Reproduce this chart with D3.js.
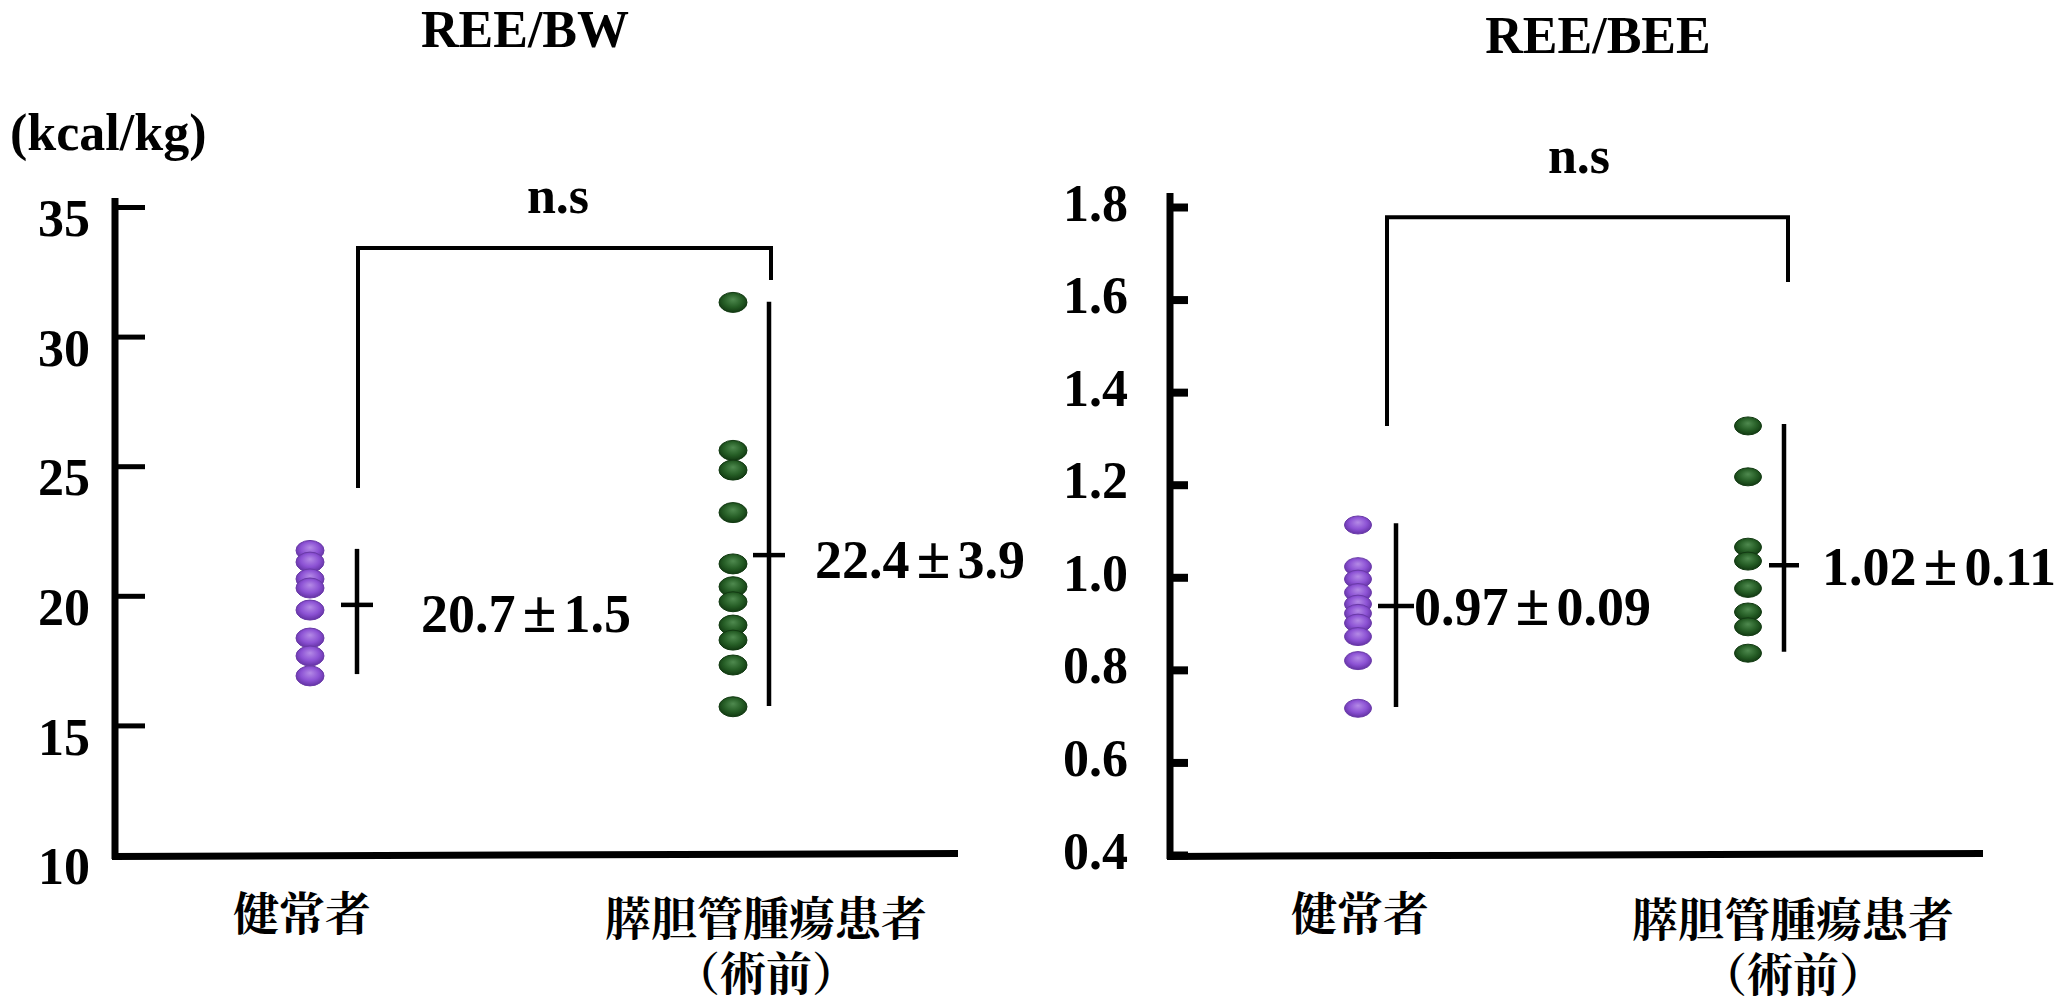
<!DOCTYPE html>
<html>
<head>
<meta charset="utf-8">
<script src="https://cdn.jsdelivr.net/npm/d3@7"></script>
<style>
  html, body { margin: 0; padding: 0; background: #fff; }
  svg { display: block; }
  .serif { font-family: "Liberation Serif", "Times New Roman", serif; font-weight: bold; fill: #000; }
  .cjk { font-family: "Liberation Serif", "Noto Serif CJK JP", "Noto Sans CJK JP", sans-serif; font-weight: bold; fill: #000; }
</style>
</head>
<body>
<script>
// ---------------- data ----------------
const categories = ["健常者", "膵胆管腫瘍患者"];
const categorySubLabels = ["", "（術前）"];

const bwTicks = [10, 15, 20, 25, 30, 35];
const bwHealthy = [21.75, 21.30, 20.65, 20.30, 19.45, 18.37, 17.68, 16.91];
const bwPatients = [31.32, 25.61, 24.85, 23.21, 21.23, 20.35, 19.77, 18.87, 18.29, 17.33, 15.72];
const bwBarMean = [19.65, 21.57];
const bwBarLow = [16.98, 15.75];
const bwBarHigh = [21.81, 31.34];
const bwStatLabels = [["20.7", "1.5"], ["22.4", "3.9"]];
const bwBracket = [33.42, 24.16, 32.18]; // top, left leg end, right leg end

const beeTicks = [0.4, 0.6, 0.8, 1.0, 1.2, 1.4, 1.6, 1.8];
const beeHealthy = [1.113, 1.023, 0.996, 0.967, 0.942, 0.922, 0.901, 0.872, 0.820, 0.717];
const beePatients = [1.327, 1.217, 1.065, 1.035, 0.976, 0.925, 0.893, 0.836];
const beeBarMean = [0.938, 1.026];
const beeBarLow = [0.720, 0.839];
const beeBarHigh = [1.117, 1.331];
const beeStatLabels = [["0.97", "0.09"], ["1.02", "0.11"]];
const beeBracket = [1.778, 1.327, 1.638];

// ---------------- layout ----------------
const W = 2071, H = 1001;
const svg = d3.select("body").append("svg").attr("width", W).attr("height", H);

const defs = svg.append("defs");
function bead(id, c0, c1, c2) {
  const g = defs.append("radialGradient").attr("id", id)
    .attr("cx", "50%").attr("cy", "45%").attr("r", "60%").attr("fx", "50%").attr("fy", "35%");
  g.append("stop").attr("offset", "0%").attr("stop-color", c0);
  g.append("stop").attr("offset", "55%").attr("stop-color", c1);
  g.append("stop").attr("offset", "100%").attr("stop-color", c2);
}
bead("gPurple", "#b48ae6", "#8c52d4", "#5c2c9c");
bead("gGreen", "#4f8a4f", "#265e26", "#0e330e");
const fills = ["url(#gPurple)", "url(#gGreen)"];
const strokes = ["#6a3aa8", "#123a12"];

const panels = [
  {
    title: "REE/BW", titleX: 525, titleY: 47,
    unit: "(kcal/kg)", unitX: 10, unitY: 150,
    ticks: bwTicks, fmt: d => d3.format("d")(d), domain: [10, 35],
    yRange: [855, 207], axisX: 115, axisTop: 198, axisRight: 958,
    tickLen: 30, tickW: 5, tickPad: 25, labelDy: "0.55em",
    series: [bwHealthy, bwPatients], dotX: [310, 733], rx: 14, ry: 10,
    barX: [357, 769], barMean: bwBarMean, barLow: bwBarLow, barHigh: bwBarHigh, barTick: [16, 16],
    stat: bwStatLabels, statX: [421, 815], statDy: [27, 23],
    bracket: bwBracket, bracketX: [358, 771], ns: "n.s", nsX: 558, nsY: 213,
    catX: [302, 766], catY: [930, 935], subY: 990
  },
  {
    title: "REE/BEE", titleX: 1598, titleY: 53,
    unit: null,
    ticks: beeTicks, fmt: d3.format(".1f"), domain: [0.4, 1.8],
    yRange: [855, 207], axisX: 1170, axisTop: 193, axisRight: 1983,
    tickLen: 18, tickW: 8, tickPad: 42, labelDy: "0.25em",
    series: [beeHealthy, beePatients], dotX: [1358, 1748], rx: 13.5, ry: 9,
    barX: [1396, 1784], barMean: beeBarMean, barLow: beeBarLow, barHigh: beeBarHigh, barTick: [18, 15],
    stat: beeStatLabels, statX: [1414, 1822], statDy: [19, 20],
    bracket: beeBracket, bracketX: [1387, 1788], ns: "n.s", nsX: 1579, nsY: 173,
    catX: [1360, 1793], catY: [930, 936], subY: 991
  }
];

panels.forEach(p => {
  const g = svg.append("g");
  const y = d3.scaleLinear().domain(p.domain).range(p.yRange);
  const x = d3.scaleOrdinal().domain(categories).range(p.dotX);
  const bx = d3.scaleOrdinal().domain(categories).range(p.barX);

  // title
  g.append("text").attr("class", "serif").attr("x", p.titleX).attr("y", p.titleY)
    .attr("text-anchor", "middle").attr("font-size", 52).text(p.title);
  if (p.unit) {
    g.append("text").attr("class", "serif").attr("x", p.unitX).attr("y", p.unitY)
      .attr("font-size", 52).text(p.unit);
  }

  // axis ticks & labels via d3 axis
  const axis = d3.axisLeft(y).tickValues(p.ticks).tickFormat(p.fmt)
    .tickSize(-p.tickLen).tickPadding(p.tickPad);
  const ag = g.append("g").attr("transform", `translate(${p.axisX},0)`).call(axis);
  ag.select(".domain").remove();
  ag.selectAll(".tick line").attr("stroke", "#000").attr("stroke-width", p.tickW);
  ag.selectAll(".tick text").attr("class", "serif").attr("font-size", 52)
    .attr("dy", p.labelDy).attr("fill", "#000");

  // axis lines
  const y0 = y(p.domain[0]);
  g.append("line").attr("x1", p.axisX).attr("x2", p.axisX)
    .attr("y1", p.axisTop).attr("y2", y0 + 4)
    .attr("stroke", "#000").attr("stroke-width", 7);
  g.append("line").attr("x1", p.axisX - 3).attr("x2", p.axisRight)
    .attr("y1", y0 + 1.5).attr("y2", y0 - 1.5)
    .attr("stroke", "#000").attr("stroke-width", 7);

  // bracket
  const [bt, bl, br] = p.bracket;
  g.append("path")
    .attr("d", `M${p.bracketX[0]},${y(bl)} V${y(bt)} H${p.bracketX[1]} V${y(br)}`)
    .attr("fill", "none").attr("stroke", "#000").attr("stroke-width", 4);
  g.append("text").attr("class", "serif").attr("x", p.nsX).attr("y", p.nsY)
    .attr("text-anchor", "middle").attr("font-size", 52).text(p.ns);

  // dots
  categories.forEach((c, i) => {
    g.append("g").selectAll("ellipse").data(p.series[i]).join("ellipse")
      .attr("cx", x(c)).attr("cy", d => y(d))
      .attr("rx", p.rx).attr("ry", p.ry)
      .attr("fill", fills[i]).attr("stroke", strokes[i]).attr("stroke-width", 1);
  });

  // error bars + mean±SD labels
  categories.forEach((c, i) => {
    const xb = bx(c);
    g.append("line").attr("x1", xb).attr("x2", xb)
      .attr("y1", y(p.barHigh[i])).attr("y2", y(p.barLow[i]))
      .attr("stroke", "#000").attr("stroke-width", 4.5);
    g.append("line").attr("x1", xb - p.barTick[i]).attr("x2", xb + p.barTick[i])
      .attr("y1", y(p.barMean[i])).attr("y2", y(p.barMean[i]))
      .attr("stroke", "#000").attr("stroke-width", 4.5);
    const t = g.append("text").attr("class", "serif")
      .attr("x", p.statX[i]).attr("y", y(p.barMean[i]) + p.statDy[i])
      .attr("font-size", 54);
    t.append("tspan").text(p.stat[i][0]);
    t.append("tspan").attr("dx", 7).attr("font-size", 62).text("±");
    t.append("tspan").attr("dx", 7).text(p.stat[i][1]);
  });

  // category labels
  categories.forEach((c, i) => {
    g.append("text").attr("class", "cjk").attr("x", p.catX[i]).attr("y", p.catY[i])
      .attr("text-anchor", "middle").attr("font-size", 46).text(c);
    if (categorySubLabels[i]) {
      g.append("text").attr("class", "cjk").attr("x", p.catX[i]).attr("y", p.subY)
        .attr("text-anchor", "middle").attr("font-size", 46).text(categorySubLabels[i]);
    }
  });
});
</script>
</body>
</html>
